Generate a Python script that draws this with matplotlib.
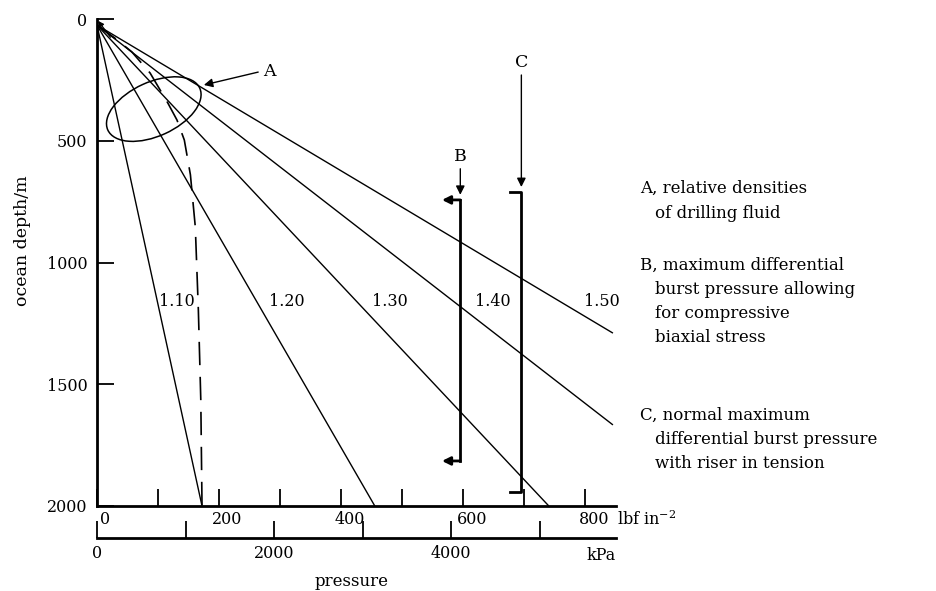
import numpy as np
import matplotlib
matplotlib.use('Agg')
import matplotlib.pyplot as plt
from matplotlib.patches import Ellipse
from matplotlib import transforms

# relative densities of drilling fluid (straight lines from the surface)
DENSITIES = ['1.10', '1.20', '1.30', '1.40', '1.50']
START_D = 25                                   # m, where the fan of lines begins
END_P = [172, 455, 740, 845, 845]              # lbf in^-2 at the end of each line
END_D = [2000, 2000, 2000, 1667, 1290]         # m
LABEL_P = [131, 311, 480, 648, 827]
LABEL_D = 1160

# dashed curve
DASH_P = [0, 29, 57, 87, 116, 131, 143, 153, 161, 166, 170, 172]
DASH_D = [25, 78, 135, 222, 345, 415, 497, 640, 854, 1195, 1565, 2000]

# B and C burst pressure limits
B_P, B_TOP, B_BOT = 595, 743, 1815
C_P, C_TOP, C_BOT = 695, 710, 1942

DEPTH_TICKS = [0, 500, 1000, 1500, 2000]
LBF_TICKS = [0, 100, 200, 300, 400, 500, 600, 700, 800]
LBF_LABELS = ['0', '', '200', '', '400', '', '600', '', '800']
KPA_TICKS = [0, 1000, 2000, 3000, 4000, 5000]
KPA_LABELS = ['0', '', '2000', '', '4000', '']
KPA_PER_LBF = 6.895

plt.rcParams['font.family'] = 'DejaVu Serif'
plt.rcParams['mathtext.fontset'] = 'dejavuserif'
FS = 11.5

fig = plt.figure(figsize=(9.36, 5.91), dpi=100)
ax = fig.add_axes([97 / 936, 85 / 591, 519 / 936, 487 / 591])

for dens, p, d, lp in zip(DENSITIES, END_P, END_D, LABEL_P):
    ax.plot([0, p], [START_D, d], color='black', lw=1.0, solid_capstyle='butt')
    ax.text(lp, LABEL_D, dens, fontsize=FS, ha='center', va='center')

ax.plot(DASH_P, DASH_D, color='black', lw=1.2, dashes=(14, 7))

# ellipse round the top of the fan (sized in inches so it keeps its shape)
ell = Ellipse((0, 0), 1.01, 0.54, angle=24.5, fill=False, lw=1.1, color='black',
              transform=fig.dpi_scale_trans + transforms.ScaledTranslation(93, 370, ax.transData))
ax.add_patch(ell)

arrow = dict(arrowstyle='-|>', color='black', lw=1.0, mutation_scale=13, shrinkA=0, shrinkB=0)
ax.annotate('', xy=(175, 271), xytext=(264, 218), arrowprops=arrow)
ax.text(283, 214, 'A', fontsize=FS + 1, ha='center', va='center')
# small arrow into the origin
ax.annotate('', xy=(2, 8), xytext=(22, 75),
            arrowprops=dict(arrowstyle='-|>', color='black', lw=0.9, mutation_scale=8,
                            shrinkA=0, shrinkB=0))

# B
ax.plot([B_P, B_P], [B_TOP, B_BOT], color='black', lw=2.0)
bend = dict(arrowstyle='-|>', color='black', lw=2.0, mutation_scale=12, shrinkA=0, shrinkB=0)
ax.annotate('', xy=(565, B_TOP), xytext=(B_P, B_TOP), arrowprops=bend)
ax.annotate('', xy=(565, B_BOT), xytext=(B_P, B_BOT), arrowprops=bend)
ax.annotate('', xy=(B_P, 722), xytext=(B_P, 615), arrowprops=arrow)
ax.text(B_P, 565, 'B', fontsize=FS + 1, ha='center', va='center')

# C
ax.plot([677, C_P, C_P, 677], [C_TOP, C_TOP, C_BOT, C_BOT], color='black', lw=2.0)
ax.annotate('', xy=(C_P, 690), xytext=(C_P, 230), arrowprops=arrow)
ax.text(C_P, 177, 'C', fontsize=FS + 1, ha='center', va='center')

ax.set_xlim(0, 850)
ax.set_ylim(2000, 0)
for s in ['top', 'right']:
    ax.spines[s].set_visible(False)
for s in ['left', 'bottom']:
    ax.spines[s].set_linewidth(2.0)

ax.set_yticks(DEPTH_TICKS)
ax.set_xticks(LBF_TICKS, [''] * len(LBF_TICKS))
ax.tick_params(direction='in', length=12, width=1.3, labelsize=FS)
ax.tick_params(axis='y', pad=7)
ax.set_ylabel('ocean depth/m', fontsize=FS + 1)
ax.yaxis.set_label_coords(-0.127, 0.544)

# lbf labels sit a little right of their ticks
for t, lab in zip(LBF_TICKS, LBF_LABELS):
    if lab:
        ax.annotate(lab, xy=(t, 0), xycoords=('data', 'axes fraction'), xytext=(6, -10),
                    textcoords='offset points', fontsize=FS, ha='center', va='center')
ax.annotate('lbf in$^{-2}$', xy=(1, 0), xycoords='axes fraction', xytext=(1, -10),
            textcoords='offset points', fontsize=FS, ha='left', va='center')

sec = ax.secondary_xaxis(-32 / 487, functions=(lambda p: p * KPA_PER_LBF, lambda k: k / KPA_PER_LBF))
sec.set_xticks(KPA_TICKS, KPA_LABELS)
sec.tick_params(direction='in', length=12, width=1.3, labelsize=FS, pad=5)
sec.spines['bottom'].set_linewidth(2.0)
fig.text(601 / 936, 1 - 556 / 591, 'kPa', fontsize=FS, ha='center', va='center')
fig.text(352 / 936, 1 - 581 / 591, 'pressure', fontsize=FS + 0.5, ha='center', va='center')

notes = [
    (640, 188, 'A, relative densities'), (655, 213, 'of drilling fluid'),
    (640, 265, 'B, maximum differential'), (655, 289, 'burst pressure allowing'),
    (655, 313, 'for compressive'), (655, 337, 'biaxial stress'),
    (640, 415, 'C, normal maximum'), (655, 440, 'differential burst pressure'),
    (655, 464, 'with riser in tension'),
]
for x, y, s in notes:
    fig.text(x / 936, 1 - y / 591, s, fontsize=12, ha='left', va='center')

fig.savefig('out.png', dpi=100)
